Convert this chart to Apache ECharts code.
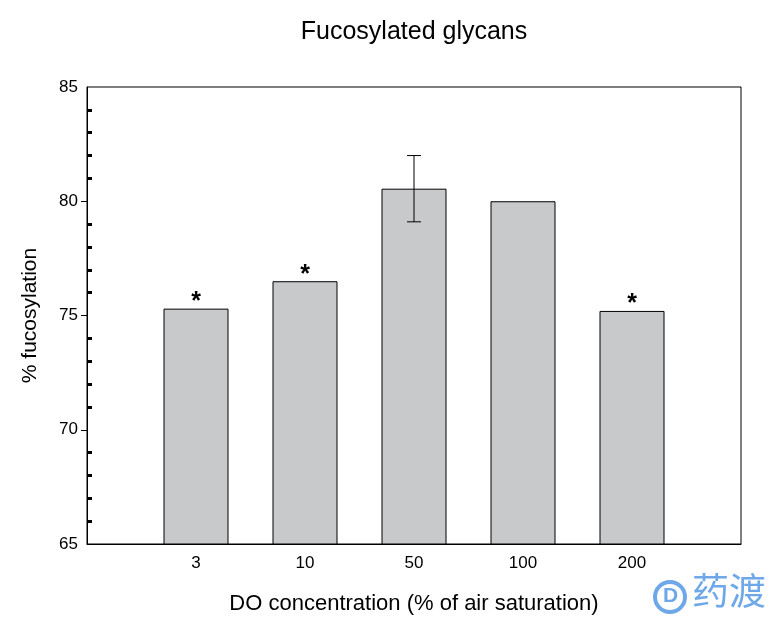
<!DOCTYPE html>
<html>
<head>
<meta charset="utf-8">
<script src="https://cdn.jsdelivr.net/npm/echarts@6/dist/echarts.min.js"></script>
<style>html,body{margin:0;padding:0;background:#fff;}#c{width:773px;height:620px;}</style>
</head>
<body>
<div id="c"></div>
<script>
// Data
const categories = ['', '3', '10', '50', '100', '200', ''];
const fucosylation = [null, 75.3, 76.5, 80.55, 80.0, 75.2, null];
const significance = ['', '*', '*', '', '', '*', ''];
// error bars: [category index, low, high]
const errorBars = [[3, 79.1, 82.0]];
const yMajorLabels = [65, 70, 75, 80, 85];
const yMajorTicks = [70, 75, 80];
const yMinorTicks = [66, 67, 68, 69, 71, 72, 73, 74, 76, 77, 78, 79, 81, 82, 83, 84];

const FONT = 'Liberation Sans, Arial, Helvetica, sans-serif';
const chart = echarts.init(document.getElementById('c'), null, {renderer: 'canvas'});
chart.setOption({
  animation: false,
  backgroundColor: '#fff',
  title: {
    text: 'Fucosylated glycans',
    left: 409, top: 15, textAlign: 'center',
    textStyle: {fontFamily: FONT, fontSize: 25, fontWeight: 'normal', color: '#000'}
  },
  grid: {left: 87, right: 32, top: 87, bottom: 75, show: true, borderColor: '#000', borderWidth: 1, backgroundColor: 'transparent'},
  xAxis: {
    type: 'category', data: categories, boundaryGap: false,
    name: 'DO concentration (% of air saturation)', nameLocation: 'middle', nameGap: 49,
    nameTextStyle: {fontFamily: FONT, fontSize: 22, color: '#000'},
    axisLine: {lineStyle: {color: '#000', width: 1}},
    axisTick: {show: false},
    axisLabel: {fontFamily: FONT, fontSize: 17, color: '#000', margin: 11, interval: 0},
    splitLine: {show: false}
  },
  yAxis: [{
    type: 'value', min: 65, max: 85, interval: 5,
    name: '% fucosylation', nameLocation: 'middle', nameGap: 46,
    nameTextStyle: {fontFamily: FONT, fontSize: 21, color: '#000'},
    axisLine: {show: true, lineStyle: {color: '#000', width: 1}},
    axisTick: {show: true, length: 6, customValues: yMajorTicks, lineStyle: {color: '#000', width: 1}},
    axisLabel: {fontFamily: FONT, fontSize: 17, color: '#000', margin: 9, customValues: yMajorLabels},
    splitLine: {show: false}
  }, {
    type: 'value', min: 65, max: 85, interval: 5, position: 'left',
    axisLine: {show: false},
    axisTick: {show: true, inside: true, length: 5, customValues: yMinorTicks, lineStyle: {color: '#000', width: 3}},
    axisLabel: {show: false},
    splitLine: {show: false}
  }],
  series: [{
    type: 'bar',
    data: fucosylation,
    barWidth: 65,
    itemStyle: {color: '#C8C9CB', borderColor: '#000', borderWidth: 1},
    label: {
      show: true, position: 'top', distance: -6,
      formatter: p => significance[p.dataIndex],
      fontFamily: FONT, fontSize: 25, fontWeight: 'bold', color: '#000'
    }
  }, {
    type: 'custom',
    data: errorBars,
    z: 5,
    renderItem: function (params, api) {
      const x = api.value(0);
      const lo = api.coord([x, api.value(1)]);
      const hi = api.coord([x, api.value(2)]);
      const hw = 7;
      const style = {stroke: '#000', lineWidth: 1};
      return {type: 'group', children: [
        {type: 'line', shape: {x1: lo[0], y1: lo[1], x2: hi[0], y2: hi[1]}, style},
        {type: 'line', shape: {x1: hi[0] - hw, y1: hi[1], x2: hi[0] + hw, y2: hi[1]}, style},
        {type: 'line', shape: {x1: lo[0] - hw, y1: lo[1], x2: lo[0] + hw, y2: lo[1]}, style}
      ]};
    }
  }],
  graphic: [{
    type: 'text', left: 692, top: 572,
    style: {text: '药渡', fill: '#6FA8E8', font: '37px "Noto Sans CJK SC", sans-serif'}
  }, {
    type: 'circle', shape: {cx: 670, cy: 597, r: 15}, style: {fill: 'none', stroke: '#6FA8E8', lineWidth: 4}
  }, {
    type: 'text', left: 663, top: 586,
    style: {text: 'D', fill: '#6FA8E8', font: 'bold 21px ' + FONT}
  }]
});
</script>
</body>
</html>
